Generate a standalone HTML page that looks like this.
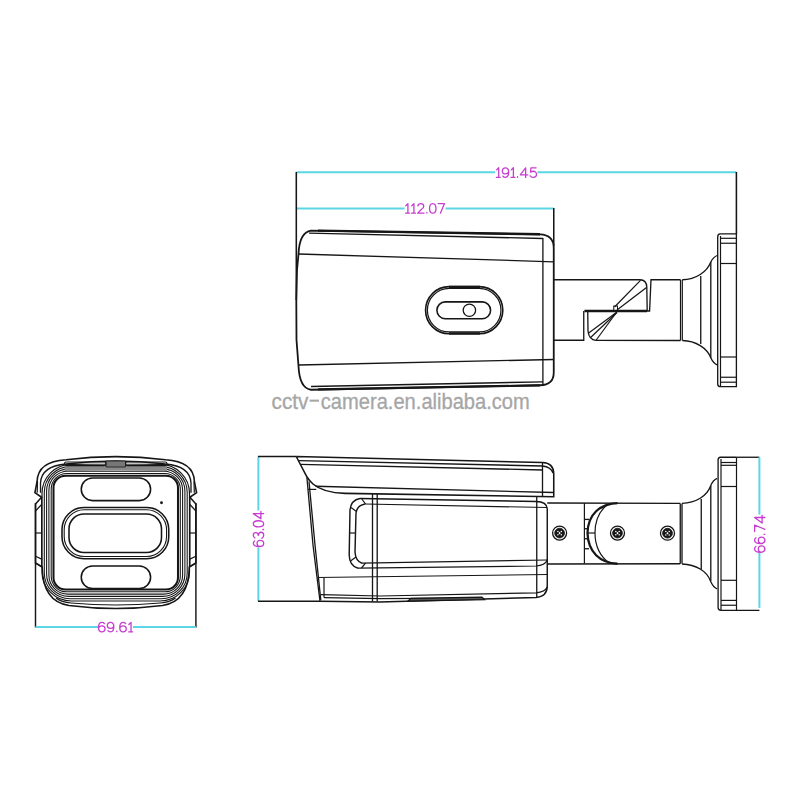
<!DOCTYPE html>
<html><head><meta charset="utf-8"><style>html,body{margin:0;padding:0;background:#fff;width:800px;height:800px;overflow:hidden}svg{display:block}</style></head>
<body><svg width="800" height="800" viewBox="0 0 800 800">
<rect width="800" height="800" fill="#fff"/>
<line x1="296.5" y1="172.3" x2="495" y2="172.3" stroke="#5cd6e4" stroke-width="2"/>
<line x1="537.5" y1="172.3" x2="736.4" y2="172.3" stroke="#5cd6e4" stroke-width="2"/>
<g fill="none" stroke="#c63dd0" stroke-width="1.3" stroke-linecap="round" stroke-linejoin="round"><path transform="translate(496.20,167.8) scale(1.005,0.960)" d="M0.4,2.2 L2.5,0 L2.5,10 M0.2,10 L4.0,10" vector-effect="non-scaling-stroke"/><path transform="translate(502.23,167.8) scale(1.005,0.960)" d="M0.7,8.7 C1.3,9.6 2.1,10 3.1,10 C5.3,10 6.4,7.8 6.4,4.6 C6.4,1.5 5.2,0 3.2,0 C1.3,0 0.1,1.4 0.1,3.3 C0.1,5.2 1.3,6.4 3.2,6.4 C4.8,6.4 6,5.5 6.4,4" vector-effect="non-scaling-stroke"/><path transform="translate(510.87,167.8) scale(1.005,0.960)" d="M0.4,2.2 L2.5,0 L2.5,10 M0.2,10 L4.0,10" vector-effect="non-scaling-stroke"/><path transform="translate(516.90,167.8) scale(1.005,0.960)" d="M0.65,9.2 L0.65,9.9" vector-effect="non-scaling-stroke"/><path transform="translate(520.22,167.8) scale(1.005,0.960)" d="M5.4,10 L5.4,0 L0,7.3 L7.6,7.3" vector-effect="non-scaling-stroke"/><path transform="translate(529.87,167.8) scale(1.005,0.960)" d="M6.2,0 L1.1,0 L0.6,4.6 C1.4,3.9 2.3,3.6 3.4,3.6 C5.4,3.6 6.6,4.9 6.6,6.8 C6.6,8.8 5.2,10 3.3,10 C1.9,10 0.8,9.4 0.2,8.3" vector-effect="non-scaling-stroke"/></g>
<line x1="296.5" y1="208.5" x2="404.5" y2="208.5" stroke="#5cd6e4" stroke-width="2"/>
<line x1="445.5" y1="208.5" x2="553.75" y2="208.5" stroke="#5cd6e4" stroke-width="2"/>
<g fill="none" stroke="#c63dd0" stroke-width="1.3" stroke-linecap="round" stroke-linejoin="round"><path transform="translate(405.40,203.6) scale(1.003,0.960)" d="M0.4,2.2 L2.5,0 L2.5,10 M0.2,10 L4.0,10" vector-effect="non-scaling-stroke"/><path transform="translate(411.42,203.6) scale(1.003,0.960)" d="M0.4,2.2 L2.5,0 L2.5,10 M0.2,10 L4.0,10" vector-effect="non-scaling-stroke"/><path transform="translate(417.43,203.6) scale(1.003,0.960)" d="M0.4,2.4 C0.7,0.8 1.9,0 3.4,0 C5.2,0 6.3,1.1 6.3,2.7 C6.3,4.3 5.2,5.3 3.6,6.5 L0.2,9.9 L6.6,9.9" vector-effect="non-scaling-stroke"/><path transform="translate(426.25,203.6) scale(1.003,0.960)" d="M0.65,9.2 L0.65,9.9" vector-effect="non-scaling-stroke"/><path transform="translate(429.56,203.6) scale(1.003,0.960)" d="M3.2,0 C1.1,0 0,2.1 0,5 C0,7.9 1.1,10 3.2,10 C5.3,10 6.4,7.9 6.4,5 C6.4,2.1 5.3,0 3.2,0 Z" vector-effect="non-scaling-stroke"/><path transform="translate(437.98,203.6) scale(1.003,0.960)" d="M0.1,0 L6.5,0 L2.4,10" vector-effect="non-scaling-stroke"/></g>
<line x1="296.3" y1="172" x2="296.3" y2="300" stroke="#161616" stroke-width="1.56"/>
<line x1="553.75" y1="208" x2="553.75" y2="246" stroke="#161616" stroke-width="1.56"/>
<line x1="736.4" y1="172" x2="736.4" y2="234" stroke="#161616" stroke-width="1.56"/>
<path d="M311,230.6 L540,234.4 Q553.75,235 553.75,248 L553.75,372.5 Q553.75,385 540,385.25 L311,389.75 C302,388.5 299,378 298.5,366 L296.5,340 L296.3,300 L297,270 L298.5,254 C299,242 302,232 311,230.6 Z" stroke="#161616" stroke-width="1.8" fill="none"/>
<path d="M318,230.6 L540,234.3" stroke="#161616" stroke-width="2.4" fill="none"/>
<line x1="309" y1="233.1" x2="542.9" y2="238.5" stroke="#161616" stroke-width="1.32"/>
<line x1="298.7" y1="254" x2="553.75" y2="261.8" stroke="#161616" stroke-width="1.32"/>
<line x1="298.7" y1="365" x2="553.75" y2="359.5" stroke="#161616" stroke-width="1.32"/>
<line x1="311" y1="386.5" x2="542.9" y2="381.8" stroke="#161616" stroke-width="1.32"/>
<path d="M318,389.4 L540,385.4" stroke="#161616" stroke-width="2.16" fill="none"/>
<line x1="542.9" y1="238" x2="542.9" y2="385" stroke="#161616" stroke-width="1.32"/>
<rect x="425.6" y="286.6" width="77.15" height="47.15" rx="23.5" stroke="#161616" stroke-width="1.68" fill="none"/>
<rect x="427.4" y="288.4" width="73.55" height="43.55" rx="21.8" stroke="#161616" stroke-width="1.2" fill="none"/>
<line x1="449" y1="287" x2="480" y2="287" stroke="#161616" stroke-width="2.4"/>
<line x1="449" y1="333.4" x2="480" y2="333.4" stroke="#161616" stroke-width="2.4"/>
<rect x="436.9" y="301.9" width="53.7" height="16.85" rx="8.4" stroke="#161616" stroke-width="1.56" fill="none"/>
<circle cx="469.4" cy="310.25" r="6.2" stroke="#161616" stroke-width="1.3" fill="none"/>
<path d="M553.75,279.75 L640,279.75 Q646.5,280 646.8,287 L647.2,311 L649.6,311 L651,279.75 L680.5,279.75" stroke="#161616" stroke-width="1.32" fill="none"/>
<line x1="584.4" y1="311" x2="647" y2="311" stroke="#161616" stroke-width="2.64"/>
<path d="M553.75,340.25 L583.75,340.25 L583.75,311" stroke="#161616" stroke-width="1.32" fill="none"/>
<path d="M587.75,312 L588,331 Q589,340 596,340.4 L680.5,340.5" stroke="#161616" stroke-width="1.32" fill="none"/>
<rect x="613.75" y="306" width="3.75" height="5" stroke="#161616" stroke-width="1" fill="none"/>
<line x1="614.5" y1="307" x2="640.5" y2="280.3" stroke="#161616" stroke-width="1.2"/>
<line x1="617" y1="310" x2="646.5" y2="287.5" stroke="#161616" stroke-width="1.2"/>
<line x1="617" y1="312" x2="588" y2="333.5" stroke="#161616" stroke-width="1.2"/>
<line x1="617" y1="312.5" x2="590.6" y2="337.5" stroke="#161616" stroke-width="1.2"/>
<line x1="616" y1="313" x2="596.25" y2="340" stroke="#161616" stroke-width="1.2"/>
<line x1="680.5" y1="279.75" x2="680.5" y2="340.5" stroke="#161616" stroke-width="1.2"/>
<line x1="682.3" y1="279.75" x2="682.3" y2="340.5" stroke="#161616" stroke-width="1.2"/>
<path d="M682.3,279.75 C696,279.5 707,272 710.8,262 Q713,257 717.7,255.25" stroke="#161616" stroke-width="1.32" fill="none"/>
<path d="M682.3,340.5 C696,340.8 707,348 710.8,357.75 Q713,363 717.7,365.2" stroke="#161616" stroke-width="1.32" fill="none"/>
<line x1="700.75" y1="276" x2="700.75" y2="344" stroke="#161616" stroke-width="1.32"/>
<line x1="710.8" y1="262" x2="710.8" y2="358" stroke="#161616" stroke-width="1.32"/>
<path d="M736.4,233.8 L720,233.8 Q717.7,234 717.7,237 L717.7,384 Q717.7,386.7 720.5,386.7 L736.4,386.7 Z" stroke="#161616" stroke-width="1.32" fill="none"/>
<line x1="720.5" y1="236" x2="720.5" y2="386" stroke="#161616" stroke-width="1.2"/>
<line x1="720.5" y1="238.3" x2="736.4" y2="238.3" stroke="#161616" stroke-width="1.2"/>
<line x1="720.5" y1="243.25" x2="736.4" y2="243.25" stroke="#161616" stroke-width="1.2"/>
<line x1="720.5" y1="263.5" x2="736.4" y2="263.5" stroke="#161616" stroke-width="1.2"/>
<line x1="720.5" y1="357" x2="736.4" y2="357" stroke="#161616" stroke-width="1.2"/>
<line x1="720.5" y1="377.25" x2="736.4" y2="377.25" stroke="#161616" stroke-width="1.2"/>
<line x1="720.5" y1="382.2" x2="736.4" y2="382.2" stroke="#161616" stroke-width="1.2"/>
<g fill="#a6a6a6" stroke="#a6a6a6" stroke-width="0.3" font-family="Liberation Sans" font-size="21.8"><text x="271.5" y="408.5" textLength="37" lengthAdjust="spacingAndGlyphs">cctv</text><text x="320.8" y="408.5" textLength="209" lengthAdjust="spacingAndGlyphs">camera.en.alibaba.com</text></g>
<rect x="309.6" y="399.6" width="9.4" height="2.1" fill="#a6a6a6"/>
<line x1="258.4" y1="456.5" x2="258.4" y2="510.5" stroke="#5cd6e4" stroke-width="2"/>
<line x1="258.4" y1="547.5" x2="258.4" y2="601.25" stroke="#5cd6e4" stroke-width="2"/>
<g fill="none" stroke="#c63dd0" stroke-width="1.3" stroke-linecap="round" stroke-linejoin="round" transform="translate(253.3,546.7) rotate(-90)"><path transform="translate(0.00,0) scale(0.964,1.040)" d="M5.9,1.3 C5.3,0.4 4.5,0 3.5,0 C1.3,0 0.2,2.2 0.2,5.4 C0.2,8.5 1.4,10 3.4,10 C5.3,10 6.5,8.6 6.5,6.7 C6.5,4.8 5.3,3.6 3.4,3.6 C1.8,3.6 0.6,4.5 0.2,6" vector-effect="non-scaling-stroke"/><path transform="translate(8.29,0) scale(0.964,1.040)" d="M0.4,1.6 C1,0.5 2,0 3.3,0 C5,0 6.1,1 6.1,2.5 C6.1,3.9 5,4.8 3.1,4.8 C5.2,4.8 6.4,5.9 6.4,7.4 C6.4,9 5.1,10 3.3,10 C1.8,10 0.7,9.4 0.1,8.2" vector-effect="non-scaling-stroke"/><path transform="translate(16.59,0) scale(0.964,1.040)" d="M0.65,9.2 L0.65,9.9" vector-effect="non-scaling-stroke"/><path transform="translate(19.77,0) scale(0.964,1.040)" d="M3.2,0 C1.1,0 0,2.1 0,5 C0,7.9 1.1,10 3.2,10 C5.3,10 6.4,7.9 6.4,5 C6.4,2.1 5.3,0 3.2,0 Z" vector-effect="non-scaling-stroke"/><path transform="translate(27.87,0) scale(0.964,1.040)" d="M5.4,10 L5.4,0 L0,7.3 L7.6,7.3" vector-effect="non-scaling-stroke"/></g>
<line x1="258" y1="456.5" x2="296.25" y2="456.5" stroke="#161616" stroke-width="1.44"/>
<line x1="258" y1="601.25" x2="320" y2="601.25" stroke="#161616" stroke-width="1.44"/>
<path d="M296.25,456.5 L542.5,462.5 Q553.75,463 553.75,474 L553.75,496.8 L345,493.4 C330,493 320,490 313,484 Q309.5,481 307,477 L296.25,456.5" stroke="#161616" stroke-width="1.56" fill="none"/>
<path d="M298.75,460.6 L542.5,466 Q551,467 553,473" stroke="#161616" stroke-width="1.32" fill="none"/>
<line x1="300.6" y1="464.4" x2="542.5" y2="470" stroke="#161616" stroke-width="1.32"/>
<line x1="315.6" y1="486.25" x2="553.75" y2="492.5" stroke="#161616" stroke-width="1.32"/>
<line x1="308" y1="489.4" x2="316.25" y2="489.4" stroke="#161616" stroke-width="1.2"/>
<line x1="542.5" y1="462.5" x2="542.5" y2="496.5" stroke="#161616" stroke-width="1.32"/>
<path d="M306.9,477.5 L313,545 L320,601.25" stroke="#161616" stroke-width="1.32" fill="none"/>
<path d="M309,481.5 L315,545 L320.8,600" stroke="#161616" stroke-width="1.32" fill="none"/>
<path d="M320,601.25 L380,602 L536,597.5 Q547.25,596.5 547.25,586 L547.25,509 Q547,501.5 536,501.5 L360,498.5" stroke="#161616" stroke-width="1.44" fill="none"/>
<line x1="317.5" y1="577.5" x2="547.25" y2="574.5" stroke="#161616" stroke-width="1.2"/>
<line x1="324" y1="577.5" x2="324" y2="597.5" stroke="#161616" stroke-width="1.2"/>
<path d="M321,594.6 L380,596 L536,592.8 Q545,592 547.25,587" stroke="#161616" stroke-width="1.2" fill="none"/>
<path d="M324,597.6 L380,598.6 L470,598.2" stroke="#161616" stroke-width="1.2" fill="none"/>
<line x1="372.5" y1="494" x2="372.5" y2="601.5" stroke="#161616" stroke-width="1.32"/>
<line x1="377.2" y1="494" x2="377.2" y2="601.5" stroke="#161616" stroke-width="1.32"/>
<line x1="536.75" y1="497" x2="536.75" y2="598" stroke="#161616" stroke-width="1.32"/>
<line x1="365" y1="504" x2="547.25" y2="507.5" stroke="#161616" stroke-width="1.2"/>
<line x1="362" y1="563.2" x2="547.25" y2="560" stroke="#161616" stroke-width="1.2"/>
<path d="M358,568.2 L536,566 Q545,565.5 547.25,560" stroke="#161616" stroke-width="1.2" fill="none"/>
<path d="M360,498.5 Q351,500 350,510 L349.2,555 Q349.5,566 358,568.2" stroke="#161616" stroke-width="1.44" fill="none"/>
<path d="M365,504 Q357,505.5 356,513 L355,552 Q355.5,561 362,563.2" stroke="#161616" stroke-width="1.44" fill="none"/>
<line x1="361.5" y1="498.5" x2="365.5" y2="504" stroke="#161616" stroke-width="1.2"/>
<line x1="351" y1="507.5" x2="356.5" y2="511.5" stroke="#161616" stroke-width="1.2"/>
<line x1="349.3" y1="533" x2="355" y2="533" stroke="#161616" stroke-width="1.2"/>
<line x1="350.5" y1="561" x2="356" y2="557" stroke="#161616" stroke-width="1.2"/>
<line x1="361.5" y1="568" x2="365.5" y2="563.2" stroke="#161616" stroke-width="1.2"/>
<path d="M408,601 L411,598.4 L482,597.2 L484.5,599.6 Z" stroke="#161616" stroke-width="1.2" fill="#555"/>
<line x1="547.25" y1="503" x2="680.25" y2="503.4" stroke="#161616" stroke-width="1.32"/>
<line x1="547.25" y1="564" x2="680.25" y2="563.75" stroke="#161616" stroke-width="1.32"/>
<line x1="584.4" y1="503" x2="584.4" y2="563.75" stroke="#161616" stroke-width="1.2"/>
<path d="M617.5,503.2 C600,504 588,514 587.5,533 C588,552 600,563 617.5,563.75" stroke="#161616" stroke-width="2.28" fill="none"/>
<path d="M607.5,504.5 C598,512 595,522 595,533 C595,544 598,555 610,563.75" stroke="#161616" stroke-width="1.2" fill="none"/>
<line x1="584.4" y1="519.4" x2="589" y2="519.4" stroke="#161616" stroke-width="1.32"/>
<line x1="584.4" y1="528.75" x2="589" y2="528.75" stroke="#161616" stroke-width="1.32"/>
<line x1="584.4" y1="538.75" x2="589" y2="538.75" stroke="#161616" stroke-width="1.32"/>
<line x1="584.4" y1="548.75" x2="589" y2="548.75" stroke="#161616" stroke-width="1.32"/>
<line x1="588" y1="533" x2="595" y2="533" stroke="#161616" stroke-width="1.2"/>
<circle cx="559.6" cy="533.1" r="7.0" stroke="#161616" stroke-width="1.3" fill="none"/>
<circle cx="559.6" cy="533.1" r="4.9" stroke="#161616" stroke-width="0.8" fill="#161616"/>
<circle cx="557.9" cy="531.4" r="0.75" fill="#fff"/>
<circle cx="561.3000000000001" cy="531.4" r="0.75" fill="#fff"/>
<circle cx="557.9" cy="534.8000000000001" r="0.75" fill="#fff"/>
<circle cx="561.3000000000001" cy="534.8000000000001" r="0.75" fill="#fff"/>
<path d="M559.6,531.8000000000001 L560.7,533.1 L559.6,534.4 L558.5,533.1 Z" fill="#fff"/>
<circle cx="617.5" cy="533.1" r="7.0" stroke="#161616" stroke-width="1.3" fill="none"/>
<circle cx="617.5" cy="533.1" r="4.9" stroke="#161616" stroke-width="0.8" fill="#161616"/>
<circle cx="615.8" cy="531.4" r="0.75" fill="#fff"/>
<circle cx="619.2" cy="531.4" r="0.75" fill="#fff"/>
<circle cx="615.8" cy="534.8000000000001" r="0.75" fill="#fff"/>
<circle cx="619.2" cy="534.8000000000001" r="0.75" fill="#fff"/>
<path d="M617.5,531.8000000000001 L618.6,533.1 L617.5,534.4 L616.4,533.1 Z" fill="#fff"/>
<circle cx="667.5" cy="533.2" r="7.0" stroke="#161616" stroke-width="1.3" fill="none"/>
<circle cx="667.5" cy="533.2" r="4.9" stroke="#161616" stroke-width="0.8" fill="#161616"/>
<circle cx="665.8" cy="531.5" r="0.75" fill="#fff"/>
<circle cx="669.2" cy="531.5" r="0.75" fill="#fff"/>
<circle cx="665.8" cy="534.9000000000001" r="0.75" fill="#fff"/>
<circle cx="669.2" cy="534.9000000000001" r="0.75" fill="#fff"/>
<path d="M667.5,531.9000000000001 L668.6,533.2 L667.5,534.5 L666.4,533.2 Z" fill="#fff"/>
<line x1="680.25" y1="503.4" x2="680.25" y2="563.75" stroke="#161616" stroke-width="1.32"/>
<line x1="682" y1="503.4" x2="682" y2="563.75" stroke="#161616" stroke-width="1.32"/>
<path d="M682,503.4 C696,503 707,496 710.6,486 Q713,480 717.2,478.4" stroke="#161616" stroke-width="1.32" fill="none"/>
<path d="M682,564 C696,564.5 707,571 710.6,581.25 Q713,587 717.2,589" stroke="#161616" stroke-width="1.32" fill="none"/>
<line x1="701.25" y1="499" x2="701.25" y2="569.4" stroke="#161616" stroke-width="1.32"/>
<line x1="710.8" y1="486" x2="710.8" y2="581" stroke="#161616" stroke-width="1.32"/>
<path d="M736.5,457.25 L720.5,457.25 Q718.1,457.5 718.1,460 L718.1,607.5 Q718.1,610.3 721,610.3 L759.4,610.3" stroke="#161616" stroke-width="1.32" fill="none"/>
<line x1="736.5" y1="457.25" x2="759.4" y2="457.25" stroke="#161616" stroke-width="1.32"/>
<line x1="736.5" y1="457.25" x2="736.5" y2="610.3" stroke="#161616" stroke-width="1.2"/>
<line x1="721" y1="459" x2="721" y2="610" stroke="#161616" stroke-width="1.2"/>
<line x1="721" y1="462.5" x2="736.5" y2="462.5" stroke="#161616" stroke-width="1.2"/>
<line x1="721" y1="465.3" x2="736.5" y2="465.3" stroke="#161616" stroke-width="1.2"/>
<line x1="721" y1="486.5" x2="736.5" y2="486.5" stroke="#161616" stroke-width="1.2"/>
<line x1="721" y1="580.3" x2="736.5" y2="580.3" stroke="#161616" stroke-width="1.2"/>
<line x1="721" y1="600.4" x2="736.5" y2="600.4" stroke="#161616" stroke-width="1.2"/>
<line x1="721" y1="605.25" x2="736.5" y2="605.25" stroke="#161616" stroke-width="1.2"/>
<line x1="759.4" y1="457.25" x2="759.4" y2="514.5" stroke="#5cd6e4" stroke-width="2"/>
<line x1="759.4" y1="553" x2="759.4" y2="607.9" stroke="#5cd6e4" stroke-width="2"/>
<g fill="none" stroke="#c63dd0" stroke-width="1.3" stroke-linecap="round" stroke-linejoin="round" transform="translate(754.6,552.5) rotate(-90)"><path transform="translate(0.00,0) scale(1.014,1.030)" d="M5.9,1.3 C5.3,0.4 4.5,0 3.5,0 C1.3,0 0.2,2.2 0.2,5.4 C0.2,8.5 1.4,10 3.4,10 C5.3,10 6.5,8.6 6.5,6.7 C6.5,4.8 5.3,3.6 3.4,3.6 C1.8,3.6 0.6,4.5 0.2,6" vector-effect="non-scaling-stroke"/><path transform="translate(8.72,0) scale(1.014,1.030)" d="M5.9,1.3 C5.3,0.4 4.5,0 3.5,0 C1.3,0 0.2,2.2 0.2,5.4 C0.2,8.5 1.4,10 3.4,10 C5.3,10 6.5,8.6 6.5,6.7 C6.5,4.8 5.3,3.6 3.4,3.6 C1.8,3.6 0.6,4.5 0.2,6" vector-effect="non-scaling-stroke"/><path transform="translate(17.43,0) scale(1.014,1.030)" d="M0.65,9.2 L0.65,9.9" vector-effect="non-scaling-stroke"/><path transform="translate(20.78,0) scale(1.014,1.030)" d="M0.1,0 L6.5,0 L2.4,10" vector-effect="non-scaling-stroke"/><path transform="translate(29.50,0) scale(1.014,1.030)" d="M5.4,10 L5.4,0 L0,7.3 L7.6,7.3" vector-effect="non-scaling-stroke"/></g>
<line x1="35.5" y1="503" x2="35.5" y2="627.5" stroke="#161616" stroke-width="1.44"/>
<line x1="195.9" y1="503" x2="195.9" y2="627.5" stroke="#161616" stroke-width="1.44"/>
<line x1="35.5" y1="626.9" x2="98" y2="626.9" stroke="#5cd6e4" stroke-width="2"/>
<line x1="133" y1="626.9" x2="195.9" y2="626.9" stroke="#5cd6e4" stroke-width="2"/>
<g fill="none" stroke="#c63dd0" stroke-width="1.3" stroke-linecap="round" stroke-linejoin="round"><path transform="translate(98.30,622.4) scale(1.036,0.940)" d="M5.9,1.3 C5.3,0.4 4.5,0 3.5,0 C1.3,0 0.2,2.2 0.2,5.4 C0.2,8.5 1.4,10 3.4,10 C5.3,10 6.5,8.6 6.5,6.7 C6.5,4.8 5.3,3.6 3.4,3.6 C1.8,3.6 0.6,4.5 0.2,6" vector-effect="non-scaling-stroke"/><path transform="translate(107.21,622.4) scale(1.036,0.940)" d="M0.7,8.7 C1.3,9.6 2.1,10 3.1,10 C5.3,10 6.4,7.8 6.4,4.6 C6.4,1.5 5.2,0 3.2,0 C1.3,0 0.1,1.4 0.1,3.3 C0.1,5.2 1.3,6.4 3.2,6.4 C4.8,6.4 6,5.5 6.4,4" vector-effect="non-scaling-stroke"/><path transform="translate(116.12,622.4) scale(1.036,0.940)" d="M0.65,9.2 L0.65,9.9" vector-effect="non-scaling-stroke"/><path transform="translate(119.54,622.4) scale(1.036,0.940)" d="M5.9,1.3 C5.3,0.4 4.5,0 3.5,0 C1.3,0 0.2,2.2 0.2,5.4 C0.2,8.5 1.4,10 3.4,10 C5.3,10 6.5,8.6 6.5,6.7 C6.5,4.8 5.3,3.6 3.4,3.6 C1.8,3.6 0.6,4.5 0.2,6" vector-effect="non-scaling-stroke"/><path transform="translate(128.45,622.4) scale(1.036,0.940)" d="M0.4,2.2 L2.5,0 L2.5,10 M0.2,10 L4.0,10" vector-effect="non-scaling-stroke"/></g>
<path d="M37.1,481.5 C37.5,470 45,461 66,459.8 Q115.75,453.5 165.5,459.8 C186.5,461 194,470 194.4,481.5 L196.6,492.75 L189.9,497.25 L195.9,504 L195.9,563 L189.3,567 C189,592 179,603 162.5,605.5 Q115.75,611.5 69,605.5 C52.5,603 42.5,592 42.2,567 L35.5,563 L35.5,504 L41.6,497.25 L34.9,492.75 Z" stroke="#161616" stroke-width="1.56" fill="none"/>
<path d="M40.5,492.75 L40.5,483 C41,473 48,465.5 66,464 Q115.75,458 165.5,464 C183.5,465.5 190.5,473 191,483 L191,492.75" stroke="#161616" stroke-width="1.32" fill="none"/>
<line x1="37.5" y1="481.5" x2="37.2" y2="492.75" stroke="#161616" stroke-width="1.2"/>
<line x1="194" y1="481.5" x2="194.3" y2="492.75" stroke="#161616" stroke-width="1.2"/>
<line x1="41.6" y1="497.25" x2="41.6" y2="567" stroke="#161616" stroke-width="1.2"/>
<line x1="189.9" y1="497.25" x2="189.9" y2="567" stroke="#161616" stroke-width="1.2"/>
<line x1="35.5" y1="533" x2="41.6" y2="533" stroke="#161616" stroke-width="1.2"/>
<line x1="195.9" y1="533" x2="189.9" y2="533" stroke="#161616" stroke-width="1.2"/>
<line x1="41.6" y1="504.5" x2="35.5" y2="511" stroke="#161616" stroke-width="1.2"/>
<line x1="189.9" y1="504.5" x2="195.9" y2="511" stroke="#161616" stroke-width="1.2"/>
<line x1="35.5" y1="563" x2="42.2" y2="567" stroke="#161616" stroke-width="1.2"/>
<line x1="195.9" y1="563" x2="189.3" y2="567" stroke="#161616" stroke-width="1.2"/>
<line x1="35.5" y1="556.2" x2="42.2" y2="559.4" stroke="#161616" stroke-width="1.2"/>
<line x1="195.9" y1="556.2" x2="189.3" y2="559.4" stroke="#161616" stroke-width="1.2"/>
<path d="M56,598 C60,601 65,602.5 71,603 Q115.75,607 160.5,603 C166.5,602.5 171.5,601 175.5,598" stroke="#161616" stroke-width="1.2" fill="none"/>
<rect x="53.5" y="475.8" width="124.5" height="113.69999999999999" rx="12.0" stroke="#161616" stroke-width="2.04" fill="none"/>
<rect x="51.2" y="473.5" width="129.10000000000002" height="118.29999999999995" rx="15.45" stroke="#161616" stroke-width="1.08" fill="none"/>
<rect x="48.9" y="471.2" width="133.7" height="122.90000000000003" rx="18.9" stroke="#161616" stroke-width="1.08" fill="none"/>
<rect x="46.6" y="468.90000000000003" width="138.3" height="127.49999999999994" rx="22.35" stroke="#161616" stroke-width="1.08" fill="none"/>
<rect x="44.3" y="466.6" width="142.89999999999998" height="132.10000000000002" rx="25.799999999999997" stroke="#161616" stroke-width="1.08" fill="none"/>
<rect x="42.0" y="464.3" width="147.5" height="136.7" rx="29.25" stroke="#161616" stroke-width="1.2" fill="none"/>
<path d="M64.5,465.3 Q115.75,463 167,465.3 L167,471.3 Q115.75,469.5 64.5,471.3 Z" fill="#8a8a8a" stroke="none"/>
<path d="M106,461 L125.5,461 L125.5,467 L106,467 Z" fill="#777" stroke="#161616" stroke-width="0.8"/>
<rect x="64.5" y="462" width="41.5" height="3.6" rx="1.8" stroke="#161616" stroke-width="1.2" fill="none"/>
<rect x="125.5" y="462" width="41.5" height="3.6" rx="1.8" stroke="#161616" stroke-width="1.2" fill="none"/>
<rect x="81.25" y="478" width="69.35" height="22.6" rx="11.3" stroke="#161616" stroke-width="1.56" fill="none"/>
<rect x="81.25" y="566" width="69.35" height="22.6" rx="11.3" stroke="#161616" stroke-width="1.56" fill="none"/>
<rect x="62" y="507.5" width="106.75" height="51.25" rx="22" stroke="#161616" stroke-width="1.56" fill="none"/>
<rect x="64.2" y="509.7" width="102.35" height="46.85" rx="20" stroke="#161616" stroke-width="1.08" fill="none"/>
<rect x="69" y="514" width="92.5" height="38.5" rx="15" stroke="#161616" stroke-width="1.56" fill="none"/>
<circle cx="161.5" cy="502.75" r="1.4" fill="#161616"/>
</svg></body></html>
